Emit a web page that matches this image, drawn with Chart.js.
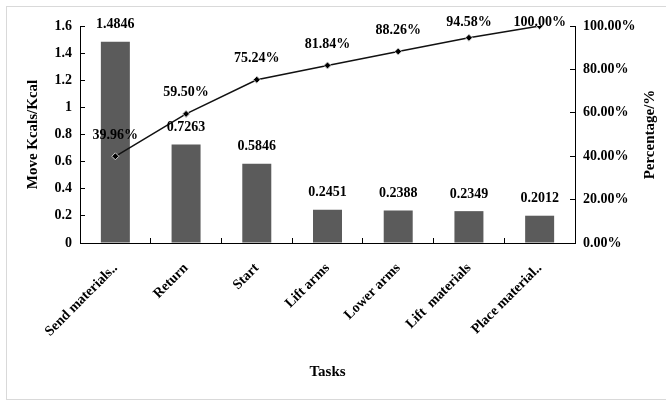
<!DOCTYPE html>
<html>
<head>
<meta charset="utf-8">
<script src="https://cdn.jsdelivr.net/npm/chart.js@4.4.1/dist/chart.umd.min.js"></script>
<style>
  html, body { margin: 0; padding: 0; background: #fff; }
  #wrap { position: relative; width: 666px; height: 401px; }
</style>
</head>
<body>
<div id="wrap"><canvas id="chartTarefas"></canvas></div>
<script>
// dados
const tarefas = ['Send materials..', 'Return', 'Start', 'Lift arms', 'Lower arms', 'Lift  materials', 'Place material..'];
const kcals = [1.4846, 0.7263, 0.5846, 0.2451, 0.2388, 0.2349, 0.2012];
const percentual = [39.96, 59.50, 75.24, 81.84, 88.26, 94.58, 100.00];
const ticksEsquerda = ['0', '0.2', '0.4', '0.6', '0.8', '1', '1.2', '1.4', '1.6'];
const ticksDireita = ['0.00%', '20.00%', '40.00%', '60.00%', '80.00%', '100.00%'];

const fonteSerif = '"Liberation Serif", "Times New Roman", serif';

// moldura cinza + rotulos + titulo do eixo direito
const pluginExtras = {
    id: 'extras',
    beforeDraw(chart) {
        const ctx = chart.ctx;
        ctx.save();
        ctx.strokeStyle = '#d9d9d9';
        ctx.lineWidth = 1;
        ctx.strokeRect(6.5, 6.5, 680, 393);
        ctx.restore();
    },
    afterDatasetsDraw(chart) {
        const ctx = chart.ctx;
        ctx.save();
        ctx.fillStyle = '#000';
        ctx.font = 'bold 14px ' + fonteSerif;
        ctx.textAlign = 'center';
        ctx.textBaseline = 'middle';

        chart.getDatasetMeta(0).data.forEach((bar, i) => {
            ctx.fillText(kcals[i].toFixed(4), bar.x, bar.y - 17);
        });
        chart.getDatasetMeta(1).data.forEach((pt, i) => {
            const y = Math.max(pt.y - 21, 22);
            ctx.fillText(percentual[i].toFixed(2) + '%', pt.x, y);
        });

        // titulo direito, lido de baixo para cima
        const area = chart.chartArea;
        ctx.translate(650, (area.top + area.bottom) / 2);
        ctx.rotate(-Math.PI / 2);
        ctx.font = 'bold 15px ' + fonteSerif;
        ctx.fillText('Percentage/%', 0, 0);
        ctx.restore();
    }
};

function criarGrafico() {
    const canvas = document.getElementById('chartTarefas');
    if (!canvas) return;

    new Chart(canvas, {
        type: 'bar',
        data: {
            labels: tarefas,
            datasets: [{
                type: 'bar',
                label: 'Move Kcals/Kcal',
                data: kcals,
                backgroundColor: '#5b5b5b',
                borderWidth: 0,
                barPercentage: 0.41,
                categoryPercentage: 1,
                yAxisID: 'y',
                order: 2
            }, {
                type: 'line',
                label: 'Percentage',
                data: percentual,
                borderColor: '#111',
                borderWidth: 1.5,
                tension: 0,
                fill: false,
                pointStyle: 'rectRot',
                pointRadius: 3.5,
                pointBackgroundColor: '#000',
                pointBorderColor: '#cfcfcf',
                pointBorderWidth: 1,
                yAxisID: 'y1',
                order: 1
            }]
        },
        options: {
            responsive: true,
            maintainAspectRatio: false,
            animation: false,
            layout: { padding: { top: 26, left: 0, right: 0, bottom: 0 } },
            plugins: {
                legend: { display: false },
                tooltip: { enabled: false }
            },
            scales: {
                x: {
                    grid: { offset: true, drawOnChartArea: false, tickLength: -5, color: '#000' },
                    border: { color: '#000', width: 1 },
                    ticks: {
                        color: '#000',
                        font: { family: fonteSerif, size: 14, weight: 'bold' },
                        minRotation: 45,
                        maxRotation: 45,
                        autoSkip: false,
                        padding: 22
                    },
                    title: {
                        display: true,
                        text: 'Tasks',
                        color: '#000',
                        font: { family: fonteSerif, size: 15, weight: 'bold' },
                        padding: { top: 0, bottom: 20 }
                    },
                    afterFit(scale) { scale.height = 158; }
                },
                y: {
                    position: 'left',
                    min: 0,
                    max: 1.6,
                    grid: { drawOnChartArea: false, tickLength: -5, color: '#000' },
                    border: { color: '#000', width: 1 },
                    ticks: {
                        stepSize: 0.2,
                        color: '#000',
                        padding: 13,
                        font: { family: fonteSerif, size: 14, weight: 'bold' },
                        callback: (v, i) => ticksEsquerda[i]
                    },
                    title: {
                        display: true,
                        text: 'Move Kcals/Kcal',
                        color: '#000',
                        font: { family: fonteSerif, size: 15, weight: 'bold' },
                        padding: { top: 24, bottom: 0 }
                    },
                    afterFit(scale) { scale.width = 80; }
                },
                y1: {
                    position: 'right',
                    min: 0,
                    max: 100,
                    grid: { drawOnChartArea: false, tickLength: -5, color: '#000' },
                    border: { color: '#000', width: 1 },
                    ticks: {
                        stepSize: 20,
                        color: '#000',
                        padding: 13,
                        font: { family: fonteSerif, size: 14, weight: 'bold' },
                        callback: (v, i) => ticksDireita[i]
                    },
                    afterFit(scale) { scale.width = 91; }
                }
            }
        },
        plugins: [pluginExtras]
    });
}

criarGrafico();
</script>
</body>
</html>
